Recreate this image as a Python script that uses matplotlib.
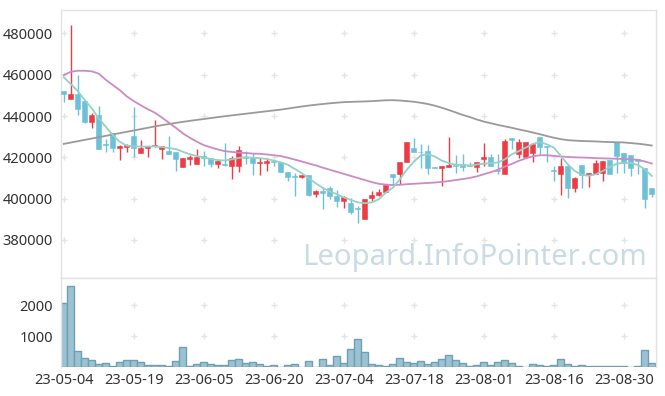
import numpy as np
import pandas as pd
import matplotlib
matplotlib.use('Agg')
import matplotlib.pyplot as plt

plt.rcParams['font.family'] = ['Noto Sans', 'DejaVu Sans']

# ── Data ──────────────────────────────────────────────────────────────────
HOLIDAYS = ['2023-05-05', '2023-05-29', '2023-06-06', '2023-08-15']
N_DAYS = 85

opens = [452300, 448200, 450600, 447300, 437300, 440500, 426300, 431900, 424700, 425200,
         430200, 422300, 424400, 425300, 424000, 422900, 422500, 415500, 419200, 416600,
         420500, 419800, 416900, 416600, 415600, 415600, 420300, 419800, 417100, 417100,
         418400, 417900, 413100, 411000, 410500, 411600, 402300, 403600, 405000, 401500,
         399000, 398100, 395300, 390000, 400500, 401600, 403200, 411800, 411800, 417700,
         424400, 422700, 423100, 415300, 415000, 415500, 416500, 416800, 416500, 415500,
         419400, 420200, 413900, 411800, 429400, 421500, 420300, 422300, 430000, 425500,
         413900, 411900, 415800, 405300, 416300, 411300, 411800, 412600, 418600, 427400,
         422300, 421100, 419400, 415000, 405000]
highs = [452300, 484000, 459800, 447300, 441300, 444800, 428700, 431900, 425800, 426400,
         444500, 428400, 425500, 438000, 425600, 430200, 422500, 419700, 421000, 424200,
         423300, 419800, 419200, 427100, 420800, 425300, 423100, 422100, 419700, 419700,
         418600, 417900, 413100, 412300, 411600, 411600, 404200, 405800, 406300, 404200,
         401200, 400500, 396500, 399700, 403700, 404500, 406500, 411800, 417700, 427400,
         429500, 426300, 426000, 415300, 415600, 429800, 421000, 421500, 417600, 417700,
         426900, 421500, 421500, 428700, 429400, 428700, 427400, 426600, 430000, 425500,
         415800, 419800, 415800, 410500, 416300, 412600, 418600, 418200, 418600, 427400,
         422300, 421100, 419400, 415000, 405000]
lows = [446600, 448200, 440500, 436800, 434000, 424200, 422400, 422400, 418700, 422400,
        420300, 421900, 420300, 425100, 419400, 421600, 413300, 415300, 416500, 416600,
        415800, 415300, 415000, 416000, 409500, 412900, 416900, 411300, 411600, 413200,
        415800, 412700, 408700, 401500, 410000, 401500, 400600, 395000, 400000, 395800,
        395500, 392400, 388100, 390000, 398900, 401300, 403200, 406100, 406900, 417700,
        422700, 415000, 412100, 415000, 406100, 415500, 412300, 413400, 415600, 412900,
        415800, 415800, 411800, 411800, 423900, 419800, 420300, 417900, 421500, 417700,
        408600, 401800, 400500, 403200, 405300, 405800, 411800, 408600, 412100, 412600,
        412600, 411000, 412100, 395300, 400800]
closes = [450600, 450600, 443500, 437300, 440500, 424200, 425800, 424700, 425500, 426000,
          424700, 424500, 425500, 426200, 425600, 421600, 419200, 419600, 420200, 420200,
          419700, 416800, 418100, 416300, 419800, 423400, 419500, 417200, 417900, 418400,
          417600, 412700, 410300, 410600, 411600, 401900, 403600, 402700, 401500, 399000,
          401000, 393300, 394800, 399700, 401600, 403200, 406500, 410600, 417700, 427400,
          422700, 422400, 415000, 415000, 415600, 416300, 416000, 415500, 415600, 417700,
          420200, 415800, 413400, 427900, 428400, 427400, 427400, 426600, 425200, 425000,
          413400, 415800, 405300, 409800, 411300, 412600, 417400, 418200, 412100, 420700,
          417100, 415000, 418200, 400000, 402400]
volumes = [2065, 2613, 516, 290, 226, 97, 129, 43, 161, 226,
           226, 161, 65, 65, 65, 32, 194, 645, 32, 97,
           161, 97, 65, 65, 226, 258, 129, 161, 97, 32,
           65, 0, 65, 97, 10, 194, 10, 258, 75, 366,
           129, 580, 903, 495, 97, 65, 32, 97, 290, 161,
           129, 194, 97, 161, 258, 387, 226, 129, 32, 65,
           161, 65, 161, 226, 129, 32, 0, 97, 65, 32,
           65, 258, 97, 32, 65, 32, 32, 32, 32, 32,
           32, 0, 32, 548, 129]

ma5 = [458700, 455500, 452000, 447700, 443700, 438800, 434800, 430750, 427500, 425600,
       425300, 425200, 425200, 425300, 425000, 424500, 424000, 422700, 421500, 420600,
       419900, 419200, 418600, 418500, 419000, 419700, 420100, 419800, 419600, 419200,
       418400, 417600, 416400, 414400, 412300, 409800, 407400, 405200, 403500, 402200,
       400600, 399400, 398200, 397800, 398200, 399700, 402900, 405300, 409300, 414000,
       417900, 420900, 421600, 420400, 418400, 417200, 416400, 416200, 416100, 416500,
       416900, 417200, 417500, 419000, 421500, 423000, 424700, 426500, 427400, 426300,
       424700, 420700, 416600, 413400, 411500, 411100, 411800, 413400, 415300, 416900,
       417400, 417300, 416300, 414200, 411000]
ma20 = [459800, 461400, 461900, 461900, 461600, 460500, 457500, 455000, 452500, 449500,
        447200, 445200, 443300, 441600, 439300, 436800, 434300, 431600, 429500, 427600,
        425900, 424800, 423800, 423000, 422600, 422300, 422100, 421800, 421700, 421400,
        421000, 420600, 419800, 418900, 418000, 417000, 416100, 415000, 414000, 413000,
        412000, 411000, 410000, 409000, 408000, 407200, 406800, 406600, 406700, 407000,
        407200, 407400, 407600, 407800, 408100, 408500, 409000, 409500, 410000, 410800,
        411800, 412800, 414000, 415500, 416800, 418300, 419500, 420500, 421000, 421000,
        420700, 420400, 420200, 420000, 419900, 419800, 419600, 419500, 419400, 419300,
        419200, 419100, 418800, 418000, 417000]
ma60 = [426500, 427150, 427800, 428450, 429100, 429750, 430400, 431050, 431700, 432350,
        433000, 433650, 434300, 434950, 435550, 436100, 436650, 437150, 437650, 438100,
        438550, 439000, 439450, 439900, 440300, 440700, 441100, 441500, 441900, 442300,
        442700, 443100, 443600, 444100, 444600, 445050, 445450, 445800, 446150, 446450,
        446700, 446850, 446950, 447050, 447200, 447400, 447600, 447650, 447500, 447200,
        446900, 446400, 445800, 445000, 444000, 442900, 441700, 440500, 439500, 438300,
        437300, 436500, 435700, 435000, 434300, 433500, 432800, 432000, 431200, 430300,
        429500, 428800, 428300, 428100, 427900, 427800, 427700, 427500, 427400, 427300,
        427200, 426900, 426600, 426200, 425700]

PRICE_TICKS = [380000, 400000, 420000, 440000, 460000, 480000]
VOL_TICKS = [1000, 2000]

dates = pd.bdate_range('2023-05-04', periods=N_DAYS + 10)
dates = dates[~dates.isin(pd.to_datetime(HOLIDAYS))][:N_DAYS]
date_labels = dates.strftime('%y-%m-%d')

# ── Figure ────────────────────────────────────────────────────────────────
W, H = 665, 396
fig = plt.figure(figsize=(W / 100, H / 100), dpi=100)

def px_axes(left, top, right, bottom):
    return fig.add_axes([left / W, 1 - bottom / H, (right - left) / W, (bottom - top) / H])

ax = px_axes(61, 10, 656, 278)
axv = px_axes(61, 278, 656, 367)

UP, DOWN = '#ee3b44', '#6cc0d7'
FRAME = '#e2e2e2'
GRIDC = '#e4e4e4'

x = np.arange(N_DAYS)
o, h, l, c = map(np.array, (opens, highs, lows, closes))
col = np.where(c >= o, UP, DOWN)

# grid as small "+" markers at tick intersections
xt = x[::10]
for a, yt in ((ax, PRICE_TICKS), (axv, VOL_TICKS)):
    gx, gy = np.meshgrid(xt, yt)
    a.plot(gx.ravel(), gy.ravel(), '+', color=GRIDC, ms=5, mew=1, zorder=0)

ax.text(0.985, 0.048, 'Leopard.InfoPointer.com', transform=ax.transAxes,
        ha='right', va='baseline', fontsize=21, color='#c9dce6', zorder=1)

ax.vlines(x, l, h, colors=col, lw=1, zorder=2)
ax.bar(x, np.maximum(np.abs(c - o), 250), bottom=np.minimum(o, c), width=0.72,
       color=col, edgecolor=col, lw=0.4, zorder=3)

ax.plot(x, ma60, color='#9a9a9a', lw=1.3, zorder=4)
ax.plot(x, ma20, color='#cc8ac6', lw=1.3, zorder=4)
ax.plot(x, ma5, color='#95d1c5', lw=1.3, zorder=4)

axv.bar(x, volumes, width=1.0, color='#9cc2d2', edgecolor='#6d9fb5', lw=1, zorder=2)

XLIM = (-0.4, 84.6)
ax.set_xlim(*XLIM)
axv.set_xlim(*XLIM)
ax.set_ylim(361600, 491300)
axv.set_ylim(0, 2880)

ax.set_yticks(PRICE_TICKS)
ax.set_yticklabels([str(v) for v in PRICE_TICKS])
ax.set_xticks([])
axv.set_yticks(VOL_TICKS)
axv.set_yticklabels([str(v) for v in VOL_TICKS])
axv.set_xticks(xt)
axv.set_xticklabels(date_labels[::10])

for a in (ax, axv):
    a.tick_params(length=0, labelsize=10.5, colors='#333333', pad=6)
    for s in a.spines.values():
        s.set_color(FRAME)
        s.set_linewidth(1)
axv.spines['bottom'].set_visible(False)
axv.tick_params(axis='x', pad=4)

fig.savefig('out.png', dpi=100)
